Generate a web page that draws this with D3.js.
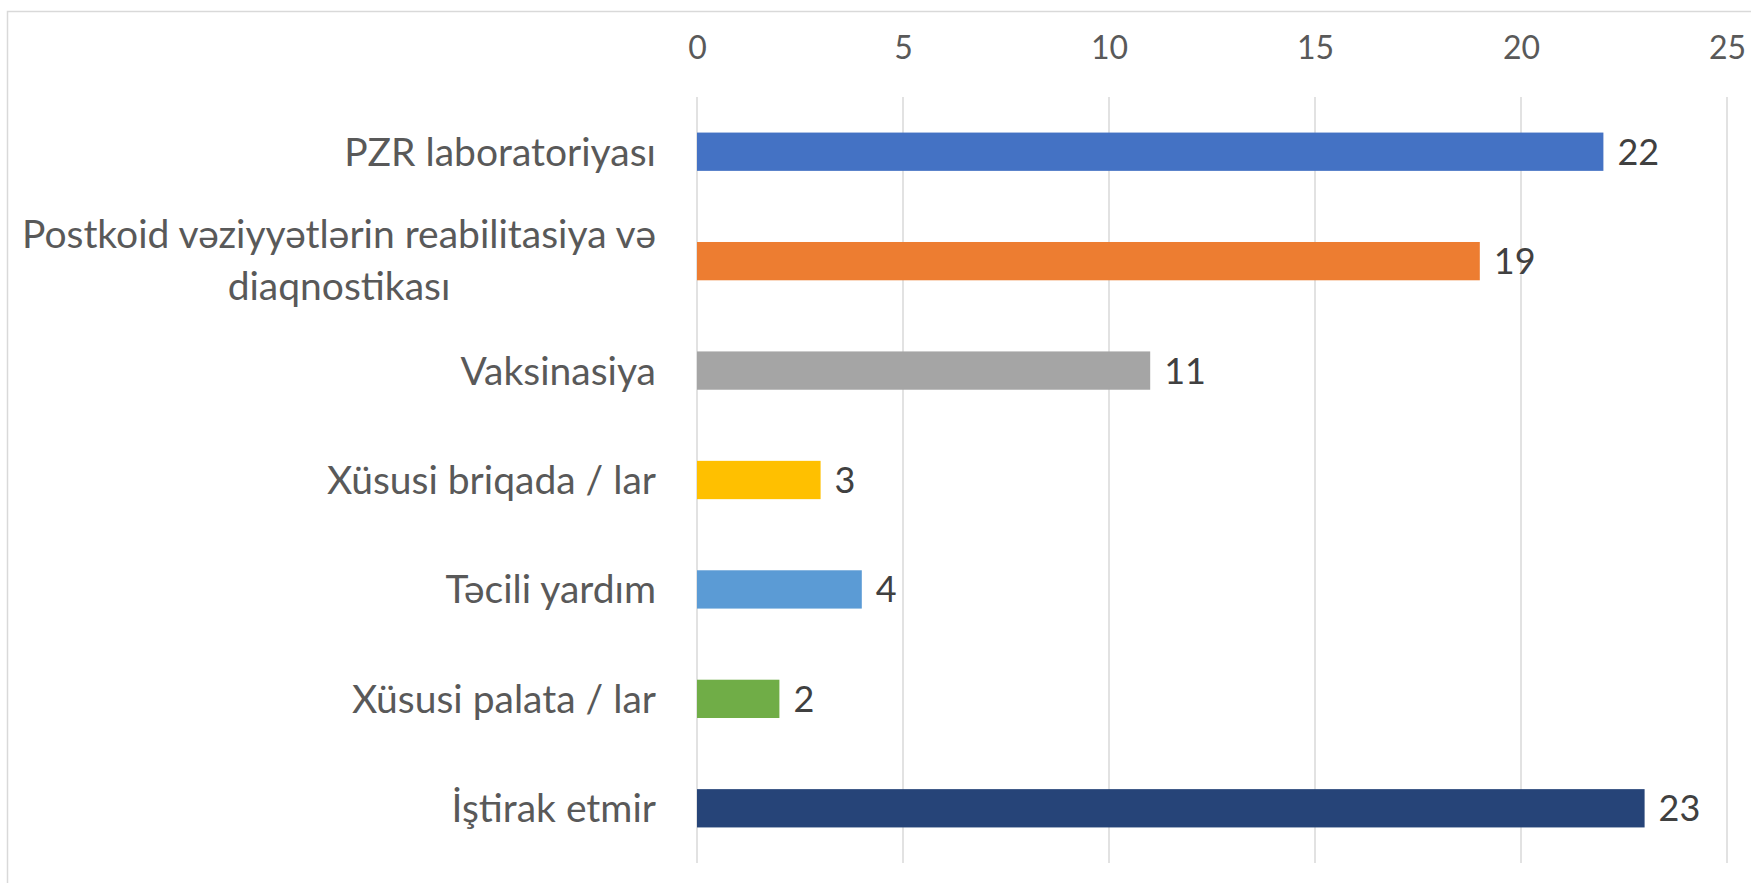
<!DOCTYPE html>
<html>
<head>
<meta charset="utf-8">
<script src="https://cdnjs.cloudflare.com/ajax/libs/d3/7.8.5/d3.min.js"></script>
<style>
  html, body { margin: 0; padding: 0; background: #fff; }
  text { font-family: Lato, "Open Sans", sans-serif; }
</style>
</head>
<body>
<div id="chart_div"></div>
<script>
// chart data
var categories = [
  ['PZR laboratoriyası'],
  ['Postkoid vəziyyətlərin reabilitasiya və', 'diaqnostikası'],
  ['Vaksinasiya'],
  ['Xüsusi briqada / lar'],
  ['Təcili yardım'],
  ['Xüsusi palata / lar'],
  ['İştirak etmir']
];
var values = [22, 19, 11, 3, 4, 2, 23];
var barColors = ['#4472C4', '#ED7D31', '#A5A5A5', '#FFC000', '#5B9BD5', '#70AD47', '#264478'];
var tickValues = [0, 5, 10, 15, 20, 25];

var width = 1751, height = 883;
var plotLeft = 697, plotRight = 1727, plotTop = 97, plotBottom = 863;

var svg = d3.select('#chart_div')
  .append('svg')
  .attr('width', width)
  .attr('height', height);

// chart area border (runs off the right and bottom edges)
svg.append('rect')
  .attr('x', 7.5)
  .attr('y', 11.5)
  .attr('width', width + 20)
  .attr('height', height + 20)
  .style('fill', 'none')
  .style('stroke', '#d9d9d9')
  .style('stroke-width', 1.5);

var x = d3.scaleLinear()
  .domain([0, 25])
  .range([plotLeft, plotRight]);

var y = d3.scaleBand()
  .domain(d3.range(categories.length))
  .range([plotTop, plotBottom])
  .paddingInner(0.65)
  .paddingOuter(0.325);

// vertical gridlines
svg.append('g')
  .selectAll('line')
  .data(tickValues)
  .enter()
  .append('line')
  .attr('x1', function(d) { return x(d); })
  .attr('x2', function(d) { return x(d); })
  .attr('y1', plotTop)
  .attr('y2', plotBottom)
  .style('stroke', '#d9d9d9')
  .style('stroke-width', 1.5);

// top axis labels
var xAxis = d3.axisTop(x)
  .tickValues(tickValues)
  .tickSize(0)
  .tickPadding(0);

var axisG = svg.append('g')
  .attr('transform', 'translate(0,47)')
  .call(xAxis);
axisG.select('.domain').remove();
axisG.selectAll('text')
  .attr('dy', '0.36em')
  .style('font-family', 'Lato, sans-serif')
  .style('font-size', '32px')
  .style('fill', '#595959');

// bars
svg.append('g')
  .selectAll('rect')
  .data(values)
  .enter()
  .append('rect')
  .attr('x', x(0))
  .attr('y', function(d, i) { return y(i); })
  .attr('width', function(d) { return x(d) - x(0); })
  .attr('height', y.bandwidth())
  .style('fill', function(d, i) { return barColors[i]; });

// value labels
svg.append('g')
  .selectAll('text')
  .data(values)
  .enter()
  .append('text')
  .attr('x', function(d) { return x(d) + 14; })
  .attr('y', function(d, i) { return y(i) + y.bandwidth() / 2; })
  .attr('dy', '0.36em')
  .style('font-size', '36px')
  .style('fill', '#404040')
  .text(function(d) { return d; });

// category labels
var labelX = plotLeft - 41;
var catG = svg.append('g')
  .selectAll('g')
  .data(categories)
  .enter()
  .append('g')
  .attr('transform', function(d, i) {
    return 'translate(0,' + (y(i) + y.bandwidth() / 2) + ')'; });

catG.each(function(lines) {
  var g = d3.select(this);
  if (lines.length == 1) {
    g.append('text')
      .attr('x', labelX)
      .attr('dy', '0.36em')
      .attr('text-anchor', 'end')
      .style('font-size', '39px')
      .style('fill', '#595959')
      .text(lines[0]);
  } else {
    var first = g.append('text')
      .attr('x', labelX)
      .attr('y', -27)
      .attr('dy', '0.36em')
      .attr('text-anchor', 'end')
      .style('font-size', '39px')
      .style('fill', '#595959')
      .text(lines[0]);
    var w = first.node().getComputedTextLength();
    g.append('text')
      .attr('x', labelX - w / 2)
      .attr('y', 25)
      .attr('dy', '0.36em')
      .attr('text-anchor', 'middle')
      .style('font-size', '39px')
      .style('fill', '#595959')
      .text(lines[1]);
  }
});
</script>
</body>
</html>
